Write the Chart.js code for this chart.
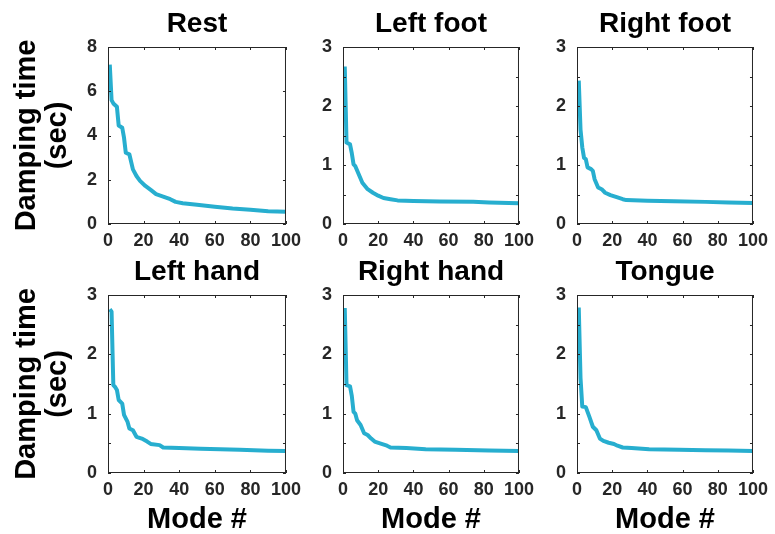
<!DOCTYPE html>
<html><head><meta charset="utf-8">
<script src="https://cdn.jsdelivr.net/npm/chart.js@4/dist/chart.umd.min.js"></script>
<style>
html,body{margin:0;padding:0;background:#fff;}
#wrap{position:relative;width:775px;height:534px;overflow:hidden;background:#fff;}
#wrap canvas{position:absolute;}
</style></head><body><div id="wrap"></div>
<script>
// ---- data ----
const panelTitles = ['Rest', 'Left foot', 'Right foot', 'Left hand', 'Right hand', 'Tongue'];
const xAxisTitle = 'Mode #';
const yAxisTitle = ['Damping time', '(sec)'];
const xTickValues = [0, 20, 40, 60, 80, 100];

const restModes  = [1, 2, 3, 5, 6, 8, 9, 10, 12, 14, 16, 18, 21, 24, 27, 31, 35, 38, 42, 50, 60, 70, 80, 90, 100];
const restValues = [7.2, 5.6, 5.45, 5.3, 4.45, 4.35, 3.9, 3.22, 3.15, 2.47, 2.17, 1.95, 1.72, 1.54, 1.35, 1.24, 1.12, 1.0, 0.94, 0.87, 0.78, 0.70, 0.64, 0.58, 0.55];

const leftFootModes  = [1, 2, 4, 5, 6, 7, 9, 11, 14, 17, 20, 23, 27, 31, 40, 55, 74, 83, 100];
const leftFootValues = [2.67, 1.38, 1.35, 1.2, 1.01, 0.98, 0.84, 0.70, 0.59, 0.53, 0.48, 0.44, 0.42, 0.40, 0.39, 0.38, 0.376, 0.365, 0.35];

const rightFootModes  = [1, 2, 3, 4, 5, 6, 8, 9, 10, 12, 14, 16, 19, 23, 26, 28, 40, 55, 73, 86, 100];
const rightFootValues = [2.43, 1.6, 1.3, 1.12, 1.10, 0.96, 0.93, 0.90, 0.76, 0.62, 0.59, 0.53, 0.49, 0.45, 0.42, 0.405, 0.395, 0.385, 0.375, 0.365, 0.355];

const leftHandModes  = [1, 2, 3, 4, 5, 6, 8, 9, 11, 12, 14, 16, 19, 22, 24, 29, 31, 40, 52, 63, 74, 90, 100];
const leftHandValues = [2.76, 2.72, 1.48, 1.45, 1.40, 1.23, 1.17, 0.98, 0.86, 0.75, 0.72, 0.61, 0.58, 0.53, 0.49, 0.47, 0.43, 0.42, 0.41, 0.40, 0.39, 0.376, 0.37];

const rightHandModes  = [1, 2, 4, 5, 6, 7, 8, 10, 12, 14, 16, 18, 21, 25, 27, 36, 47, 64, 83, 100];
const rightHandValues = [2.78, 1.48, 1.46, 1.30, 1.03, 1.0, 0.89, 0.81, 0.67, 0.64, 0.58, 0.53, 0.50, 0.46, 0.43, 0.42, 0.40, 0.39, 0.38, 0.37];

const tongueModes  = [1, 2, 3, 5, 7, 9, 11, 13, 15, 18, 21, 23, 26, 31, 41, 58, 73, 86, 100];
const tongueValues = [2.79, 1.6, 1.12, 1.11, 0.95, 0.78, 0.72, 0.58, 0.54, 0.51, 0.49, 0.46, 0.43, 0.42, 0.40, 0.39, 0.385, 0.38, 0.37];

const yMaxes     = [8, 3, 3, 3, 3, 3];
const yTickSteps = [2, 0.5, 0.5, 0.5, 0.5, 0.5];
const yLabelSteps = [2, 1, 1, 1, 1, 1];

const seriesModes  = [restModes, leftFootModes, rightFootModes, leftHandModes, rightHandModes, tongueModes];
const seriesValues = [restValues, leftFootValues, rightFootValues, leftHandValues, rightHandValues, tongueValues];

// ---- layout ----
const colLeft  = [108, 343, 577];
const colRight = [287, 520, 754];
const rowTop    = [47, 295];
const rowBottom = [224, 473];
const TITLE_H = 47;
const RIGHT_PAD = 20;
const LINE_COLOR = '#27AECF';
const AXIS_COLOR = '#262626';
const FONT = "'Liberation Sans', Arial, Helvetica, sans-serif";

Chart.defaults.font.family = FONT;
Chart.defaults.font.weight = 'bold';
Chart.defaults.color = AXIS_COLOR;

const boxTicks = {
  id: 'boxTicks',
  afterDraw(chart) {
    const { ctx, chartArea: a, scales: { x, y } } = chart;
    ctx.save();
    ctx.strokeStyle = AXIS_COLOR;
    ctx.lineWidth = 1;
    ctx.strokeRect(a.left + 0.5, a.top + 0.5, a.right - a.left - 1, a.bottom - a.top - 1);
    const TL = 3;
    ctx.beginPath();
    x.ticks.forEach(t => {
      const px = Math.round(x.getPixelForValue(t.value)) + 0.5;
      ctx.moveTo(px, a.bottom); ctx.lineTo(px, a.bottom - TL);
      ctx.moveTo(px, a.top); ctx.lineTo(px, a.top + TL);
    });
    y.ticks.forEach(t => {
      const py = Math.round(y.getPixelForValue(t.value)) + 0.5;
      ctx.moveTo(a.left, py); ctx.lineTo(a.left + TL, py);
      ctx.moveTo(a.right, py); ctx.lineTo(a.right - TL, py);
    });
    ctx.stroke();
    ctx.restore();
  }
};

const wrap = document.getElementById('wrap');
for (let i = 0; i < 6; i++) {
  const row = Math.floor(i / 3), col = i % 3;
  const yW = col === 0 ? colLeft[0] : 50;
  const xH = row === 0 ? 30 : 534 - rowBottom[1];
  const cx = colLeft[col] - yW;
  const cy = rowTop[row] - TITLE_H;
  const cw = yW + (colRight[col] - colLeft[col]) + RIGHT_PAD;
  const ch = TITLE_H + (rowBottom[row] - rowTop[row]) + xH;
  const cv = document.createElement('canvas');
  cv.width = cw; cv.height = ch;
  cv.style.left = cx + 'px'; cv.style.top = cy + 'px';
  cv.style.width = cw + 'px'; cv.style.height = ch + 'px';
  wrap.appendChild(cv);

  const pts = seriesModes[i].map((m, k) => ({ x: m, y: seriesValues[i][k] }));
  const labelStep = yLabelSteps[i];

  new Chart(cv.getContext('2d'), {
    type: 'line',
    data: { datasets: [{ data: pts, borderColor: LINE_COLOR, borderWidth: 4, pointRadius: 0, fill: false, tension: 0, borderJoinStyle: 'round', borderCapStyle: 'butt' }] },
    options: {
      responsive: false, maintainAspectRatio: false, animation: false, devicePixelRatio: 1,
      layout: { padding: { left: 0, top: 0, bottom: 0, right: RIGHT_PAD } },
      plugins: {
        legend: { display: false }, tooltip: { enabled: false },
        title: { display: true, text: panelTitles[i], fullSize: false, color: '#000',
                 font: { size: 28, weight: 'bold', lineHeight: 1 }, padding: { top: 10, bottom: 9 } }
      },
      scales: {
        x: {
          type: 'linear', min: 0, max: 100,
          afterBuildTicks(s) { s.ticks = xTickValues.map(v => ({ value: v })); },
          afterFit(s) { s.height = xH; },
          grid: { display: false, drawTicks: false }, border: { display: false },
          ticks: { font: { size: 18, weight: 'bold' }, color: AXIS_COLOR, padding: 6, maxRotation: 0, autoSkip: false },
          title: { display: row === 1, text: xAxisTitle, color: '#000', font: { size: 29, weight: 'bold', lineHeight: 1 }, padding: { top: 0, bottom: 0 } }
        },
        y: {
          type: 'linear', min: 0, max: yMaxes[i],
          ticks: { stepSize: yTickSteps[i], font: { size: 18, weight: 'bold' }, color: AXIS_COLOR, padding: 11, autoSkip: false,
                   callback: v => (Math.abs(v / labelStep - Math.round(v / labelStep)) < 1e-6 ? String(v) : '') },
          afterFit(s) { s.width = yW; },
          grid: { display: false, drawTicks: false }, border: { display: false },
          title: { display: col === 0, text: yAxisTitle, color: '#000', font: { size: 29, weight: 'bold', lineHeight: 1.07 }, padding: { top: 11, bottom: 0 } }
        }
      }
    },
    plugins: [boxTicks]
  });
}
</script>
</body></html>
